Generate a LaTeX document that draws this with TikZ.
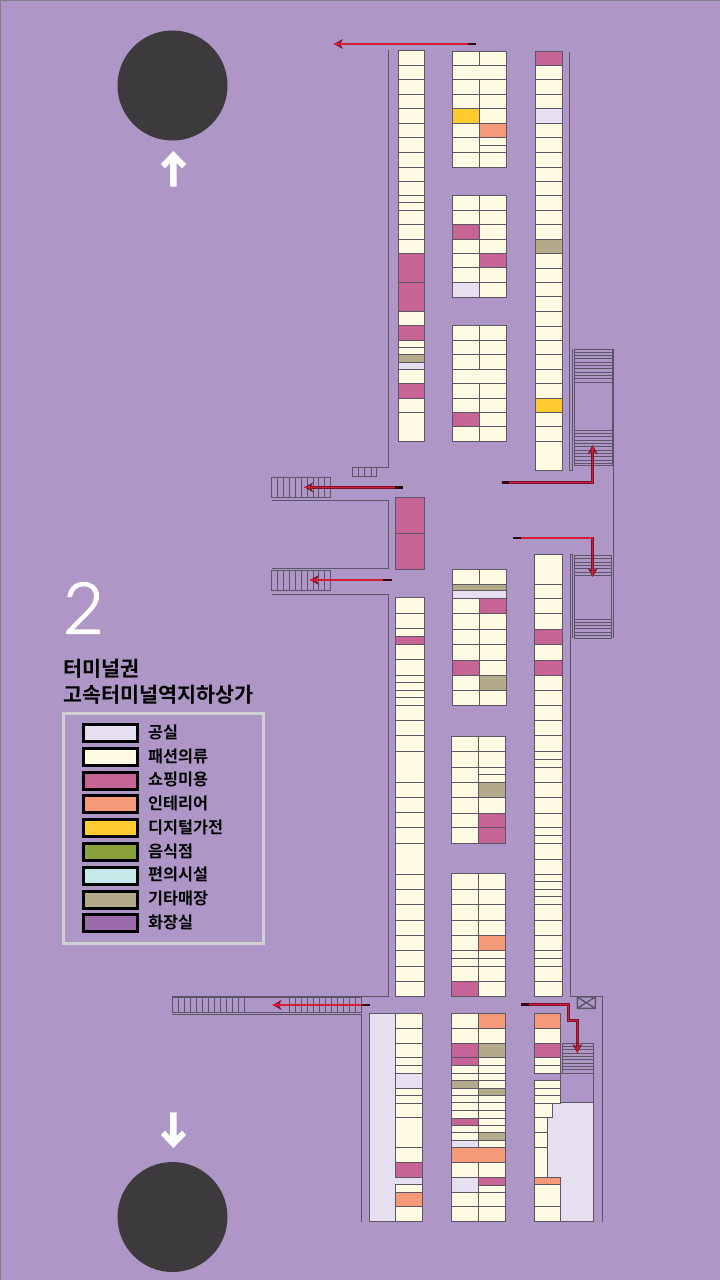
\documentclass[tikz,border=0pt]{standalone}
\usepackage{fontspec}
\usepackage{tikz}
\usetikzlibrary{arrows.meta}
\newfontfamily\hanfont{Noto Sans CJK KR}[BoldFont={* Bold}]
\newfontfamily\thinfont{Lato}[UprightFont={* Light},FakeBold=2.2]

\definecolor{bgv}{RGB}{174,150,198}
\definecolor{cr}{RGB}{255,251,227}
\definecolor{pk}{RGB}{198,101,149}
\definecolor{li}{RGB}{230,223,240}
\definecolor{ta}{RGB}{178,170,136}
\definecolor{or}{RGB}{244,154,120}
\definecolor{ye}{RGB}{255,203,46}
\definecolor{gr}{RGB}{139,162,60}
\definecolor{cy}{RGB}{197,232,232}
\definecolor{vi}{RGB}{156,107,172}
\definecolor{wallc}{RGB}{92,85,102}
\definecolor{routed}{RGB}{120,20,45}
\definecolor{router}{RGB}{212,28,50}
\definecolor{framec}{RGB}{208,208,208}
\definecolor{stationc}{RGB}{60,58,60}

\tikzset{
	shop/.style={draw=wallc,line width=1pt},
	wall/.style={draw=wallc,line width=1pt},
	stair/.style={draw=wallc,line width=.9pt},
	swatch/.style={draw=black,line width=3pt},
	route/.style={draw=routed,line width=2.5pt,
		-{Stealth[length=9pt,width=10pt,fill=router,line width=.8pt]},
		postaction={draw=router,line width=1.4pt,-}},
	routetail/.style={draw=black!60!routed,line width=2.5pt},
	legendtext/.style={anchor=west,inner sep=0pt,font=\hanfont\bfseries\fontsize{16.3}{16.3}\selectfont},
	titletext/.style={anchor=west,inner sep=0pt,font=\hanfont\bfseries\fontsize{20.7}{20.7}\selectfont},
}

% one strip of shops: left x, right x, top y, then bottom y/colour of each shop
\newcommand{\shoprow}[4]{
	\foreach \y/\c [remember=\y as \yl (initially #3)] in {#4}
		\draw[shop,fill=\c] (#1,\yl) rectangle (#2,\y);
}

\begin{document}
\begin{tikzpicture}[x=1pt,y=-1pt]
	\useasboundingbox (0,0) rectangle (720,1280);
	\fill[bgv] (0,0) rectangle (720,1280);
	\draw[gray,line width=2pt] (0,1280) -- (0,0) -- (720,0);

	% stations
	\fill[stationc] (172.5,85.5) circle (55);
	\fill[stationc] (172.5,1217) circle (55);
	\fill[white] (173.3,151) -- (186,164) -- (182,168.5) -- (176.7,163) -- (176.7,186.7) -- (170,186.7)
		-- (170,163) -- (165,168.5) -- (161,164) -- cycle;
	\fill[white] (173.3,1148) -- (186,1135) -- (182,1130.5) -- (176.7,1136) -- (176.7,1112.3) -- (170,1112.3)
		-- (170,1136) -- (165,1130.5) -- (161,1135) -- cycle;

	% left strip, north
	\shoprow{398}{424.7}{50.3}{65.3/cr,79.7/cr,94.3/cr,108.7/cr,123.3/cr,137.3/cr,152.3/cr,167/cr,181.3/cr,195.3/cr,
		202.7/cr,210.3/cr,224.7/cr,239.3/cr,253.3/cr,282.3/pk,311.3/pk,325.7/cr,340/pk,347.3/cr,354.3/cr,362/ta,
		369/li,383.3/cr,398/pk,412.3/cr,441.7/cr}

	% middle blocks, north
	\shoprow{452.7}{479.7}{51.3}{65.3/cr,79.7/cr,94.3/cr,108.7/cr,123.3/ye,137.3/cr,152.3/cr,167/cr}
	\shoprow{479.7}{506.7}{51.3}{65.3/cr,79.7/cr,94.3/cr,108.7/cr,123.3/cr,137.3/or,145.3/cr,152.3/cr,167/cr}
	\draw[shop,fill=cr] (452.7,65.3) rectangle (506.7,79.7);

	\shoprow{452.7}{479.7}{195.3}{210.3/cr,224.7/cr,239.3/pk,253.3/cr,267.7/cr,282.3/cr,297.3/li}
	\shoprow{479.7}{506.7}{195.3}{210.3/cr,224.7/cr,239.3/cr,253.3/cr,267.7/pk,282.3/cr,297.3/cr}

	\shoprow{452.7}{479.7}{325.3}{340/cr,354.3/cr,369.3/cr,383.3/cr,398/cr,412.7/cr,426.3/pk,441.7/cr}
	\shoprow{479.7}{506.7}{325.3}{340/cr,354.3/cr,369.3/cr,383.3/cr,398/cr,412.7/cr,426.3/cr,441.7/cr}
	\draw[shop,fill=cr] (452.7,369.3) rectangle (506.7,383.3);

	% right strip, north
	\shoprow{535.7}{562.3}{51.3}{65.3/pk,79.7/cr,94.3/cr,108.7/cr,123.3/li,137.3/cr,152.3/cr,167/cr,181.3/cr,195.3/cr,
		210.3/cr,224.7/cr,239.3/cr,253.3/ta,268.3/cr,282.7/cr,296.7/cr,311.3/cr,326.3/cr,340/cr,354.3/cr,369.3/cr,
		383.3/cr,398/cr,412.3/ye,426.3/cr,441.3/cr,470.3/cr}

	% the two shops between the stairs
	\shoprow{395.7}{424.7}{497.7}{533.3/pk,569.7/pk}

	% left strip, south
	\shoprow{395.7}{424.7}{597.3}{613.7/cr,628.7/cr,636/cr,644.3/pk,659.3/cr,675/cr,682.3/cr,690.3/cr,697.7/cr,705.7/cr,
		720.3/cr,735.7/cr,751.7/cr,782.3/cr,797.3/cr,812.3/cr,827.7/cr,843/cr,874/cr,889.3/cr,904.3/cr,920.3/cr,
		935.3/cr,950.7/cr,966/cr,981.3/cr,996.3/cr}

	% middle blocks, south
	\shoprow{452.7}{479.7}{569.3}{584.3/cr,598.3/cr,613.7/cr,629/cr,644.3/cr,660/cr,675.3/pk,690.3/cr,705.3/cr}
	\shoprow{479.7}{506.3}{569.3}{584.3/cr,598.3/cr,613.7/pk,629/cr,644.3/cr,660/cr,675.3/cr,690.3/ta,705.3/cr}
	\draw[shop,fill=ta] (452.7,584.3) rectangle (506.3,590.7);
	\draw[shop,fill=li] (452.7,590.7) rectangle (506.3,598.3);

	\shoprow{451.7}{478.7}{736.3}{751.3/cr,767/cr,782.3/cr,797.3/cr,813/cr,827.7/cr,843/cr}
	\shoprow{478.7}{505.3}{736.3}{751.3/cr,767/cr,774.3/cr,782.3/cr,797.3/ta,813/cr,827.7/pk,843/pk}

	\shoprow{451.7}{478.7}{873.7}{889.3/cr,904.3/cr,920.3/cr,935.7/cr,950.7/cr,958.3/cr,966/cr,981.3/cr,996.3/pk}
	\shoprow{478.7}{505.3}{873.7}{889.3/cr,904.3/cr,920.3/cr,935.7/cr,950.7/or,958.3/cr,966/cr,981.3/cr,996.3/cr}

	% right strip, south
	\shoprow{534.5}{562.3}{554.3}{584.3/cr,598.3/cr,613.7/cr,629/cr,644.3/pk,660/cr,675.3/pk,690.3/cr,705.3/cr,720.3/cr,
		735.3/cr,751.7/cr,759.3/cr,767/cr,782.3/cr,797.3/cr,813/cr,827.7/cr,835.3/cr,843/cr,859.3/cr,874.3/cr,
		881.7/cr,889.3/cr,896.7/cr,904.3/cr,920.3/cr,935.7/cr,950.7/cr,958.3/cr,966/cr,981.3/cr,996.3/cr}

	% bottom block, left
	\draw[shop,fill=li] (369.3,1013.3) -- (395.7,1013.3) -- (395.7,1177.3) -- (422.7,1177.3) -- (422.7,1184.3)
		-- (395.7,1184.3) -- (395.7,1221.7) -- (369.3,1221.7) -- cycle;
	\shoprow{395.7}{422.7}{1013.3}{1028.3/cr,1043.3/cr,1057.7/cr,1065.3/cr,1073/cr,1088.3/li,1095.7/cr,1103/cr,1117.3/cr,
		1147.3/cr,1162.3/cr,1177.3/pk}
	\shoprow{395.7}{422.7}{1184.3}{1192.3/cr,1206.7/or,1221.7/cr}

	% bottom block, middle
	\shoprow{451.7}{478.3}{1013.3}{1028.3/cr,1043.7/cr,1057.7/pk,1065.3/pk,1073/cr,1080.7/cr,1088.3/ta,1095.7/cr,1102.7/cr,
		1110.3/cr,1118/cr,1125.3/pk,1132.7/cr,1140/cr,1147.7/li,1162.3/cr,1177.3/cr,1192.3/li,1206.7/cr,1221.7/cr}
	\shoprow{478.3}{505.3}{1013.3}{1028.3/or,1043.7/cr,1057.7/ta,1065.3/cr,1073/cr,1080.7/cr,1088.3/cr,1095.7/ta,1102.7/cr,
		1110.3/cr,1118/cr,1125.3/cr,1132.7/cr,1140/ta,1147.7/cr,1162.3/cr,1177.3/cr,1185/pk,1192.3/cr,1206.7/cr,1221.7/cr}
	\draw[shop,fill=or] (451.7,1147.7) rectangle (505.3,1162.3);

	% bottom block, right
	\draw[shop,fill=li] (552.7,1102.7) -- (593.3,1102.7) -- (593.3,1221.7) -- (560,1221.7) -- (560,1177.3) -- (547.3,1177.3)
		-- (547.3,1117.3) -- (552.7,1117.3) -- cycle;
	\shoprow{534.7}{560}{1013.3}{1028.3/or,1043.3/cr,1057.7/pk,1065.3/cr,1073/cr}
	\shoprow{534.7}{560}{1080.7}{1088.3/cr,1095.7/cr,1103/cr}
	\shoprow{534.7}{552.7}{1103}{1117.3/cr}
	\shoprow{534.7}{547.3}{1117.3}{1132/cr,1147.3/cr,1177.3/cr}
	\shoprow{534.7}{560}{1177.3}{1184.3/or,1206.7/cr,1221.7/cr}
	\draw[wall] (534.7,1073) -- (593.3,1073) -- (593.3,1102.7);
	\draw[wall] (560,1073) -- (560,1102.7);

	% walls
	\draw[wall] (388.3,50) -- (388.3,467.3) -- (353,467.3);
	\draw[wall] (272,500) -- (388.3,500) -- (388.3,568.3) -- (272,568.3);
	\draw[wall] (272,594.3) -- (388.3,594.3) -- (388.3,996) -- (172.3,996);
	\draw[wall] (172.3,1014.3) -- (361.5,1014.3) -- (361.5,1221.7);
	\draw[wall] (569.3,51.7) -- (569.3,470.3) -- (572.3,470.3) -- (572.3,349);
	\draw[wall] (613.7,349) -- (613.7,638);
	\draw[wall] (572.7,638) -- (572.7,554.3) -- (570,554.3) -- (570,996) -- (602.7,996) -- (602.7,1221.7);

	% stairs
	\draw[stair] (352.7,467.3) rectangle (376.7,476.7);
	\foreach \x in {358.3,364.3,371.7} \draw[stair] (\x,467.3) -- (\x,476.7);
	\foreach \ya/\yb in {477.3/497.7,570.3/590.7} {
		\draw[stair] (271.7,\ya) rectangle (330.7,\yb);
		\foreach \x in {277.6,283.5,...,325} \draw[stair] (\x,\ya) -- (\x,\yb);
	}
	\draw[stair] (172.3,997.7) rectangle (361.7,1012.3);
	\foreach \x in {178,184,...,245} \draw[stair] (\x,997.7) -- (\x,1012.3);
	\foreach \x in {289.5,295.5,...,356} \draw[stair] (\x,997.7) -- (\x,1012.3);
	\draw[stair] (574.3,349) rectangle (612.3,465);
	\foreach \y in {349,352.3,...,385} \draw[stair] (574.3,\y) -- (612.3,\y);
	\foreach \y in {430.3,433.6,...,465} \draw[stair] (574.3,\y) -- (612.3,\y);
	\draw[stair] (574.3,555.3) rectangle (611.7,638.7);
	\foreach \y in {558.7,562.1,...,576} \draw[stair] (574.3,\y) -- (611.7,\y);
	\foreach \y in {619.3,622.5,...,638} \draw[stair] (574.3,\y) -- (611.7,\y);
	\draw[stair] (562.3,1043.3) rectangle (593.3,1073);
	\foreach \y in {1046.6,1049.9,...,1072} \draw[stair] (562.3,\y) -- (593.3,\y);

	% lift
	\draw[wall,line width=1.4pt] (577.3,997) rectangle (595.3,1008.3)
		(577.3,997) -- (595.3,1008.3) (577.3,1008.3) -- (595.3,997);

	% routes
	\draw[route] (476,44) -- (334,44);
	\draw[route] (501.7,482.5) -- (592.7,482.5) -- (592.7,445);
	\draw[route] (403.3,487.3) -- (304.3,487.3);
	\draw[route] (391.7,580) -- (310,580);
	\draw[route] (513.3,538) -- (592.7,538) -- (592.7,577);
	\draw[route] (369.7,1005) -- (272.7,1005);
	\draw[route] (521.3,1004.7) -- (568.7,1004.7) -- (568.7,1020.7) -- (577.3,1020.7) -- (577.3,1053);
	\foreach \xa/\xb/\y in {476/468/44,501.7/509/482.5,403.3/395/487.3,391.7/383/580,513.3/521/538,369.7/362/1005,521.3/529/1004.7}
		\draw[routetail] (\xa,\y) -- (\xb,\y);

	% titles
	\node[text=white,anchor=center,font=\thinfont\fontsize{71}{71}\selectfont] (floornum) at (83.5,608) {2};
	\node[titletext] (titleone) at (63,669) {터미널권};
	\node[titletext] (titletwo) at (63,695) {고속터미널역지하상가};

	% legend
	\draw[framec,line width=3pt] (63.5,713.5) rectangle (263.5,943.5);
	\foreach \y/\c/\t [count=\n] in {733.3/li/공실,757/cr/패션의류,780.7/pk/쇼핑미용,804.3/or/인테리어,828.3/ye/디지털가전,
		852/gr/음식점,875.7/cy/편의시설,899.7/ta/기타매장,923.3/vi/화장실} {
		\draw[swatch,fill=\c] (83.5,\y-8.5) rectangle (137.8,\y+8.5);
		\node[legendtext] (legend\n) at (148,\y-1) {\t};
	}
\end{tikzpicture}
\end{document}
